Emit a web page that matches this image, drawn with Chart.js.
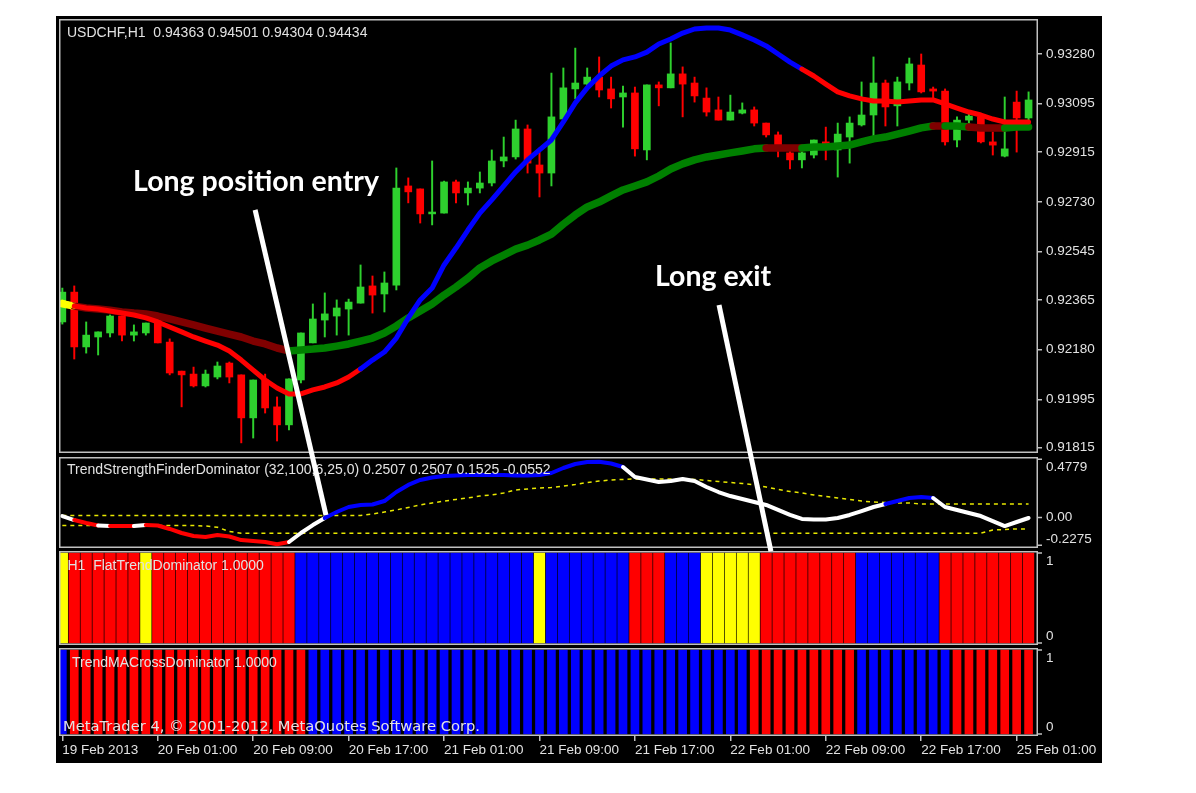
<!DOCTYPE html>
<html><head><meta charset="utf-8">
<script src="https://cdn.jsdelivr.net/npm/chart.js@4.4.0/dist/chart.umd.min.js"></script>
<style>
html,body{margin:0;padding:0;background:#ffffff;}
#wrap{position:absolute;left:0;top:0;width:1196px;height:793px;}
</style></head><body>
<div id="wrap"><canvas id="c" width="1196" height="793"></canvas></div>
<script>
// ---------------- DATA ----------------
const xTickBars = [0, 8, 16, 24, 32, 40, 48, 56, 64, 72, 80];
const xTickLabels = ['19 Feb 2013','20 Feb 01:00','20 Feb 09:00','20 Feb 17:00','21 Feb 01:00','21 Feb 09:00','21 Feb 17:00','22 Feb 01:00','22 Feb 09:00','22 Feb 17:00','25 Feb 01:00'];
const priceTicks = [0.93280,0.93095,0.92915,0.92730,0.92545,0.92365,0.92180,0.91995,0.91815];
const priceTickLabels = ['0.93280','0.93095','0.92915','0.92730','0.92545','0.92365','0.92180','0.91995','0.91815'];
const tsfTicks = [0.4779, 0, -0.2275];
const tsfTickLabels = ['0.4779','0.00','-0.2275'];
const histTicks = [1, 0];
const histTickLabels = ['1','0'];

const open = [
0.92283,0.92394,0.92190,0.92227,0.92242,0.92305,0.92234,0.92242,0.92301,0.92208,
0.92100,0.92089,0.92045,0.92078,0.92130,0.92086,0.91926,0.92067,0.91967,0.91900,
0.92067,0.92205,0.92290,0.92305,0.92331,0.92353,0.92417,0.92387,0.92420,0.92789,
0.92778,0.92685,0.92688,0.92804,0.92763,0.92781,0.92800,0.92882,0.92897,0.93001,
0.92867,0.92837,0.93038,0.93150,0.93168,0.93194,0.93150,0.93120,0.93135,0.92923,
0.93165,0.93154,0.93206,0.93172,0.93116,0.93072,0.93034,0.93060,0.93072,0.93023,
0.92979,0.92912,0.92886,0.92904,0.92953,0.92923,0.92971,0.93016,0.93053,0.93172,
0.93087,0.93172,0.93239,0.93150,0.93142,0.92960,0.93034,0.93046,0.92953,0.92900,
0.93101,0.93042];
const high = [
0.92409,0.92417,0.92283,0.92246,0.92309,0.92309,0.92272,0.92279,0.92309,0.92220,
0.92100,0.92115,0.92104,0.92134,0.92134,0.92086,0.92067,0.92089,0.92004,0.92071,
0.92242,0.92350,0.92391,0.92365,0.92368,0.92495,0.92454,0.92469,0.92856,0.92819,
0.92778,0.92882,0.92807,0.92811,0.92804,0.92841,0.92923,0.92971,0.93034,0.93016,
0.92930,0.93209,0.93228,0.93302,0.93228,0.93269,0.93194,0.93161,0.93157,0.93165,
0.93176,0.93321,0.93232,0.93194,0.93154,0.93120,0.93127,0.93098,0.93083,0.93023,
0.92990,0.92923,0.92923,0.92960,0.93008,0.93023,0.93046,0.93176,0.93269,0.93183,
0.93194,0.93265,0.93280,0.93157,0.93150,0.93046,0.93057,0.93057,0.92990,0.93120,
0.93142,0.93139];
const low = [
0.92275,0.92145,0.92167,0.92160,0.92227,0.92212,0.92212,0.92234,0.92205,0.92086,
0.91967,0.92041,0.92041,0.92071,0.92056,0.91833,0.91851,0.91944,0.91840,0.91881,
0.92056,0.92205,0.92227,0.92234,0.92234,0.92353,0.92316,0.92320,0.92402,0.92726,
0.92651,0.92644,0.92688,0.92726,0.92718,0.92763,0.92789,0.92860,0.92889,0.92837,
0.92748,0.92789,0.93038,0.93113,0.93146,0.93120,0.93079,0.93008,0.92900,0.92886,
0.93087,0.93154,0.93046,0.93101,0.93049,0.93034,0.93034,0.93057,0.93012,0.92971,
0.92897,0.92852,0.92856,0.92893,0.92886,0.92822,0.92874,0.93012,0.92971,0.93012,
0.93012,0.93146,0.93135,0.93116,0.92941,0.92934,0.92997,0.92949,0.92904,0.92897,
0.92915,0.93034];
const close = [
0.92394,0.92190,0.92234,0.92246,0.92305,0.92234,0.92246,0.92279,0.92205,0.92093,
0.92086,0.92045,0.92089,0.92119,0.92078,0.91926,0.92067,0.91963,0.91900,0.92071,
0.92242,0.92294,0.92313,0.92335,0.92357,0.92413,0.92383,0.92428,0.92781,0.92767,
0.92685,0.92692,0.92804,0.92763,0.92781,0.92800,0.92882,0.92897,0.93001,0.92874,
0.92837,0.93046,0.93154,0.93172,0.93194,0.93146,0.93113,0.93135,0.92927,0.93165,
0.93154,0.93206,0.93168,0.93124,0.93064,0.93034,0.93064,0.93072,0.93023,0.92979,
0.92934,0.92886,0.92912,0.92960,0.92930,0.92982,0.93023,0.93053,0.93172,0.93083,
0.93176,0.93243,0.93139,0.93142,0.92953,0.93034,0.93049,0.92953,0.92941,0.92927,
0.93042,0.93109];

const fastMA = [
0.92357,0.92342,0.92335,0.92331,0.92324,0.92316,0.92309,0.92298,0.92283,0.92264,
0.92246,0.92227,0.92212,0.92197,0.92175,0.92141,0.92104,0.92067,0.92037,0.92015,
0.92015,0.92030,0.92041,0.92056,0.92078,0.92108,0.92141,0.92171,0.92223,0.92298,
0.92365,0.92409,0.92495,0.92558,0.92625,0.92688,0.92737,0.92789,0.92841,0.92886,
0.92923,0.92960,0.93027,0.93098,0.93154,0.93198,0.93235,0.93258,0.93269,0.93287,
0.93317,0.93336,0.93358,0.93373,0.93377,0.93377,0.93369,0.93351,0.93332,0.93310,
0.93280,0.93250,0.93224,0.93198,0.93168,0.93139,0.93124,0.93113,0.93105,0.93105,
0.93101,0.93105,0.93109,0.93109,0.93094,0.93079,0.93064,0.93053,0.93038,0.93027,
0.93027,0.93027];
const slowMA = [
0.92350,0.92342,0.92335,0.92331,0.92327,0.92320,0.92316,0.92313,0.92305,0.92294,
0.92283,0.92272,0.92260,0.92249,0.92238,0.92227,0.92212,0.92201,0.92186,0.92175,
0.92179,0.92182,0.92186,0.92193,0.92201,0.92212,0.92223,0.92242,0.92268,0.92298,
0.92324,0.92350,0.92383,0.92413,0.92446,0.92484,0.92510,0.92532,0.92554,0.92569,
0.92588,0.92610,0.92647,0.92681,0.92711,0.92729,0.92752,0.92774,0.92789,0.92804,
0.92826,0.92852,0.92871,0.92886,0.92897,0.92904,0.92912,0.92919,0.92927,0.92930,
0.92930,0.92930,0.92930,0.92934,0.92934,0.92938,0.92941,0.92953,0.92964,0.92971,
0.92982,0.92993,0.93005,0.93012,0.93012,0.93012,0.93008,0.93005,0.93005,0.93005,
0.93008,0.93008];
// colour runs: Y yellow, R red, B blue, D dark red, G green, W white
const fastRuns = [['Y',1],['R',24],['B',37],['R',20]];
const slowRuns = [['Y',1],['D',18],['G',40],['D',3],['G',11],['D',1],['G',2],['D',3],['G',3]];

const tsf = [
0.012,-0.021,-0.045,-0.066,-0.070,-0.070,-0.070,-0.062,-0.066,-0.094,
-0.127,-0.152,-0.160,-0.144,-0.156,-0.185,-0.193,-0.201,-0.220,-0.201,
-0.127,-0.062,-0.004,0.045,0.086,0.103,0.107,0.135,0.209,0.267,
0.308,0.328,0.340,0.345,0.349,0.349,0.349,0.349,0.345,0.345,
0.349,0.365,0.406,0.439,0.455,0.458,0.443,0.414,0.332,0.312,
0.291,0.299,0.316,0.299,0.250,0.209,0.176,0.152,0.127,0.103,
0.062,0.021,-0.012,-0.016,-0.016,-0.004,0.021,0.053,0.086,0.111,
0.135,0.160,0.168,0.160,0.086,0.062,0.037,0.012,-0.029,-0.070,
-0.037,-0.004];
const tsfRuns = [['W',1],['R',2],['W',1],['R',2],['W',1],['R',12],['W',3],['B',25],['W',22],['B',4],['W',9]];
const tsfUpper = [
0.016,0.016,0.016,0.016,0.016,0.016,0.016,0.016,0.016,0.016,
0.016,0.016,0.016,0.016,0.016,0.016,0.016,0.016,0.016,0.016,
0.016,0.016,0.016,0.016,0.016,0.016,0.029,0.045,0.062,0.082,
0.103,0.119,0.135,0.148,0.160,0.176,0.185,0.201,0.226,0.234,
0.242,0.246,0.258,0.271,0.287,0.299,0.308,0.312,0.316,0.316,
0.316,0.316,0.316,0.312,0.304,0.295,0.287,0.279,0.267,0.250,
0.230,0.213,0.201,0.185,0.172,0.160,0.148,0.135,0.127,0.123,
0.119,0.119,0.111,0.111,0.111,0.111,0.111,0.111,0.111,0.111,
0.111,0.111];
const tsfLower = [
-0.066,-0.066,-0.066,-0.066,-0.066,-0.066,-0.066,-0.066,-0.066,-0.066,
-0.066,-0.066,-0.070,-0.080,-0.115,-0.129,-0.129,-0.129,-0.129,-0.129,
-0.129,-0.129,-0.129,-0.129,-0.129,-0.129,-0.129,-0.129,-0.129,-0.129,
-0.129,-0.129,-0.129,-0.129,-0.129,-0.129,-0.129,-0.129,-0.129,-0.129,
-0.129,-0.129,-0.129,-0.129,-0.129,-0.129,-0.129,-0.129,-0.129,-0.129,
-0.129,-0.129,-0.129,-0.129,-0.129,-0.129,-0.129,-0.129,-0.129,-0.129,
-0.129,-0.129,-0.129,-0.129,-0.129,-0.129,-0.129,-0.129,-0.129,-0.129,
-0.129,-0.129,-0.129,-0.129,-0.129,-0.129,-0.129,-0.129,-0.103,-0.098,
-0.094,-0.094];

const flatRuns = [['Y',1],['R',6],['Y',1],['R',12],['B',20],['Y',1],['B',7],['R',3],['B',3],['Y',5],['R',8],['B',7],['R',8]];
const crossRuns = [['B',1],['R',20],['B',37],['R',9],['B',8],['R',7]];
const histValue = 1.0;

const panelTitles = [
  {axis:'yMain',  text:'USDCHF,H1  0.94363 0.94501 0.94304 0.94434'},
  {axis:'yTsf',   text:'TrendStrengthFinderDominator (32,100,6,25,0) 0.2507 0.2507 0.1525 -0.0552'},
  {axis:'yFlat',  text:'H1  FlatTrendDominator 1.0000'},
  {axis:'yCross', text:'TrendMACrossDominator 1.0000'}
];
const copyright = 'MetaTrader 4, \u00A9 2001-2012, MetaQuotes Software Corp.';

const notes = [
  {text:'Long position entry', bar:5.93, axis:'yMain', value:0.92770},
  {text:'Long exit',           bar:49.68, axis:'yMain', value:0.92417}
];
const arrows = [
  {from:{bar:16.16, axis:'yMain', value:0.92700}, to:{bar:22.10, axis:'yTsf', value:0.02}},
  {from:{bar:55.05, axis:'yMain', value:0.92346}, to:{bar:59.40, axis:'yFlat', value:1.02}}
];

// ---------------- STYLE ----------------
const COL = {Y:'#ffff00', R:'#ff0000', B:'#0000ff', D:'#800000', G:'#008000', W:'#ffffff'};
const BULL = '#2ed02e', BEAR = '#ff0000';
const TXT = '#e2e2e2';
const FRAME = '#c0c0c0';

function expand(runs){ const out=[]; runs.forEach(([c,n])=>{ for(let k=0;k<n;k++) out.push(c); }); return out; }
const fastState = expand(fastRuns), slowState = expand(slowRuns), tsfState = expand(tsfRuns);
const flatState = expand(flatRuns), crossState = expand(crossRuns);

const idx = open.map((_, i) => i);
const xy = arr => arr.map((v, i) => ({x: i, y: v}));
const candleCol = idx.map(i => close[i] >= open[i] ? BULL : BEAR);

Chart.defaults.font.family = '"Liberation Sans", Arial, sans-serif';

const lineBase = {type:'line', pointRadius:0, pointHoverRadius:0, tension:0, borderJoinStyle:'round', borderCapStyle:'round', fill:false};

const datasets = [
  {...lineBase, label:'fast', yAxisID:'yMain', data: xy(fastMA), borderWidth:5, borderColor:COL.R, order:1,
    segment:{borderColor: c => COL[fastState[c.p0DataIndex]]}},
  {...lineBase, label:'slow', yAxisID:'yMain', data: xy(slowMA), borderWidth:7.5, borderColor:COL.G, order:2,
    segment:{borderColor: c => COL[slowState[c.p0DataIndex]]}},
  {type:'bar', label:'bodies', yAxisID:'yMain', grouped:false, barThickness:7, minBarLength:1.5,
    data: idx.map(i => ({x:i, y:[open[i], close[i]]})), backgroundColor:candleCol, borderWidth:0, order:10},
  {type:'bar', label:'wicks', yAxisID:'yMain', grouped:false, barThickness:1.3,
    data: idx.map(i => ({x:i, y:[low[i], high[i]]})), backgroundColor:candleCol, borderWidth:0, order:11},
  {...lineBase, label:'tsf', yAxisID:'yTsf', data: xy(tsf), borderWidth:4, borderColor:COL.W, order:3,
    segment:{borderColor: c => COL[tsfState[c.p0DataIndex]]}},
  {...lineBase, label:'upper', yAxisID:'yTsf', data: xy(tsfUpper), borderWidth:1.5, borderColor:'#e8e800', borderDash:[4,4], borderCapStyle:'butt', order:4},
  {...lineBase, label:'lower', yAxisID:'yTsf', data: xy(tsfLower), borderWidth:1.5, borderColor:'#e8e800', borderDash:[4,4], borderCapStyle:'butt', order:4},
  {type:'bar', label:'flat', yAxisID:'yFlat', grouped:false, barThickness:10.6,
    data: idx.map(i => ({x:i, y:histValue})), backgroundColor: flatState.map(s => COL[s]), borderWidth:0, order:12},
  {type:'bar', label:'cross', yAxisID:'yCross', grouped:false, barThickness:8,
    data: idx.map(i => ({x:i, y:histValue})), backgroundColor: crossState.map(s => COL[s]), borderWidth:0, order:12}
];

const AXW = 64;
function sideAxis(weight, stackWeight, min, max){
  return {type:'linear', position:'right', stack:'mt', weight, stackWeight, min, max, offset:false,
    afterFit: s => { s.width = AXW; },
    ticks:{display:false}, grid:{display:false}, border:{display:false}};
}

const panelInset = {yMain:[0,2], yTsf:[2,1.5], yFlat:[1.5,1.5], yCross:[1.5,0]};
const sideTicks = {yTsf:[tsfTicks, tsfTickLabels], yFlat:[histTicks, histTickLabels], yCross:[histTicks, histTickLabels]};
const titleInset = {yMain:[8,14], yTsf:[8,13], yFlat:[8.5,15], yCross:[13,15]};

const mt4 = {
  id:'mt4',
  beforeDraw(chart){
    const {ctx, chartArea:ca, scales} = chart;
    ctx.save();
    ctx.fillStyle = '#000';
    const l = ca.left - 3, t = ca.top - 3;
    ctx.fillRect(l, t, scales.yMain.right - l, scales.x.bottom - t);
    ctx.restore();
  },
  afterDraw(chart){
    const {ctx, chartArea:ca, scales} = chart;
    ctx.save();
    // panel frames
    ctx.strokeStyle = FRAME; ctx.lineWidth = 1.5;
    const box = {};
    Object.keys(panelInset).forEach(id => {
      const s = scales[id]; const [gt, gb] = panelInset[id];
      const top = s.top + gt, bot = s.bottom - gb;
      box[id] = [top, bot];
      ctx.strokeRect(ca.left + 0.75, top + 0.75, ca.right - ca.left - 1.5, bot - top - 1.5);
    });
    // side axis labels (clamped inside the panel like MT4)
    ctx.font = '13.5px "Liberation Sans"'; ctx.fillStyle = TXT; ctx.textBaseline = 'middle'; ctx.textAlign = 'left';
    Object.keys(sideTicks).forEach(id => {
      const s = scales[id]; const [vals, labs] = sideTicks[id]; const [top, bot] = box[id];
      vals.forEach((v, i) => {
        const py = s.getPixelForValue(v);
        const my = Math.min(Math.max(py, top + 1), bot - 1);
        ctx.beginPath(); ctx.moveTo(ca.right, my); ctx.lineTo(ca.right + 4, my); ctx.stroke();
        const ly = Math.min(Math.max(py, top + 10.5), bot - 9);
        ctx.fillText(labs[i], ca.right + 8, ly);
      });
    });
    // titles
    ctx.font = '14px "Liberation Sans"';
    panelTitles.forEach(p => {
      const [dx, dy] = titleInset[p.axis];
      ctx.fillText(p.text, ca.left + dx, box[p.axis][0] + dy);
    });
    ctx.font = '14.7px "DejaVu Sans"';
    ctx.fillText(copyright, ca.left + 4, box.yCross[1] - 9);
    // annotations
    const xs = scales.x;
    ctx.strokeStyle = '#ffffff'; ctx.lineWidth = 5; ctx.lineCap = 'butt';
    arrows.forEach(a => {
      ctx.beginPath();
      ctx.moveTo(xs.getPixelForValue(a.from.bar), scales[a.from.axis].getPixelForValue(a.from.value));
      ctx.lineTo(xs.getPixelForValue(a.to.bar), scales[a.to.axis].getPixelForValue(a.to.value));
      ctx.stroke();
    });
    ctx.font = 'bold 28.5px Lato';
    ctx.textBaseline = 'alphabetic'; ctx.fillStyle = '#ffffff';
    notes.forEach(n => ctx.fillText(n.text, xs.getPixelForValue(n.bar), scales[n.axis].getPixelForValue(n.value)));
    ctx.restore();
  }
};

new Chart(document.getElementById('c'), {
  type:'bar',
  data:{datasets},
  options:{
    responsive:false, animation:false, devicePixelRatio:1,
    layout:{padding:{left:59, top:19, right:94, bottom:30}},
    plugins:{legend:{display:false}, tooltip:{enabled:false}, title:{display:false}},
    events:[],
    scales:{
      x:{type:'linear', position:'bottom', min:-0.28, max:81.79, offset:false,
        afterBuildTicks: s => { s.ticks = xTickBars.map(v => ({value:v})); },
        afterFit: s => { s.height = 27; },
        ticks:{autoSkip:false, maxRotation:0, minRotation:0, align:'start', padding:1, color:TXT, font:{size:13.5},
          callback: (v, i) => xTickLabels[i]},
        grid:{offset:false, drawOnChartArea:false, drawTicks:true, tickLength:5, color:FRAME, lineWidth:1.5},
        border:{display:false}},
      yMain:{type:'linear', position:'right', stack:'mt', weight:1, stackWeight:436, min:0.917879, max:0.934102, offset:false,
        afterBuildTicks: s => { s.ticks = priceTicks.map(v => ({value:v})); },
        afterFit: s => { s.width = AXW; },
        ticks:{color:TXT, font:{size:13.5}, padding:4, callback:(v, i) => priceTickLabels[i]},
        grid:{drawOnChartArea:false, drawTicks:true, tickLength:4, color:FRAME, lineWidth:1.5},
        border:{display:false}},
      yTsf: sideAxis(2, 94.5, -0.2625, 0.5127),
      yFlat: sideAxis(3, 97, -0.0389, 1.0389),
      yCross: sideAxis(4, 89.5, -0.0238, 1.0417)
    }
  },
  plugins:[mt4]
});
</script>
</body></html>
